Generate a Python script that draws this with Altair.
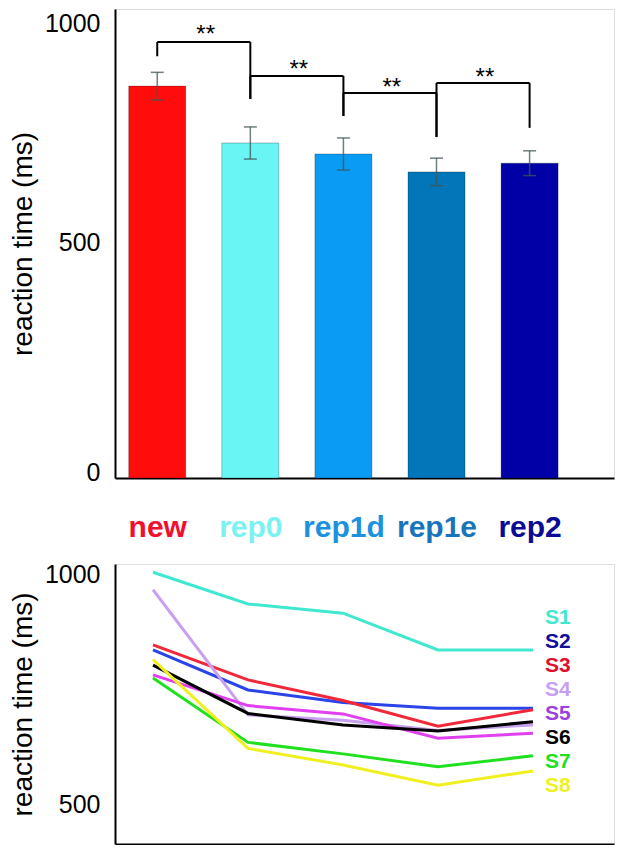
import altair as alt
import pandas as pd

# ---------------- data ----------------
conditions = ["new", "rep0", "rep1d", "rep1e", "rep2"]
mean_rt = [854, 730, 706, 667, 686]
err_rt = [30, 35, 35, 30, 27]
bar_colors = ["#ff0d0d", "#6af5f5", "#0a9cf5", "#0276b8", "#0000a6"]
label_colors = ["#f0102e", "#7af2f2", "#1a92e0", "#1a74bc", "#0a0a96"]

# significance brackets between neighbouring conditions
br_from = [1, 2, 3, 4]
br_to = [2, 3, 4, 5]
br_top = [950, 876, 839, 861]
br_left_end = [919, 826, 789, 743]
br_right_end = [826, 789, 743, 763]
star_level = [979, 903, 863, 885]
star_text = ["**", "**", "**", "**"]

subjects = ["S1", "S2", "S3", "S4", "S5", "S6", "S7", "S8"]
rt_S1 = [1004, 935, 915, 835, 835]
rt_S2 = [835, 748, 721, 708, 708]
rt_S3 = [846, 770, 725, 669, 705]
rt_S4 = [966, 694, 682, 660, 672]
rt_S5 = [781, 714, 696, 643, 654]
rt_S6 = [802, 697, 672, 659, 679]
rt_S7 = [774, 634, 609, 581, 605]
rt_S8 = [814, 621, 585, 541, 572]
line_colors = ["#40e8d0", "#2a44e8", "#f0283a", "#c8a0f0", "#e040f0", "#000000", "#20e020", "#f0f020"]
subject_label_colors = ["#40e8d0", "#10109a", "#e01030", "#c8a0f0", "#9a40e0", "#000000", "#20e020", "#f0f020"]

# ---------------- tables ----------------
pos = list(range(1, len(conditions) + 1))
bars = pd.DataFrame({"pos": pos, "cond": conditions, "rt": mean_rt, "err": err_rt})
brackets = pd.DataFrame({
    "x1": br_from, "x2": br_to, "top": br_top,
    "lb": br_left_end, "rb": br_right_end, "sy": star_level, "s": star_text,
})
series = {"S1": rt_S1, "S2": rt_S2, "S3": rt_S3, "S4": rt_S4,
          "S5": rt_S5, "S6": rt_S6, "S7": rt_S7, "S8": rt_S8}
lines = pd.DataFrame([
    {"subject": s, "pos": p, "rt": v}
    for s in subjects for p, v in zip(pos, series[s])
])
subj_df = pd.DataFrame({"subject": subjects})

FONT = "Liberation Sans"
W = 499
xscale = alt.Scale(domain=[0.6, 5.853], nice=False, zero=False)
ytop = alt.Scale(domain=[0, 1022], nice=False)
ybot = alt.Scale(domain=[413, 1022], nice=False, zero=False)

label_expr = "['', " + ", ".join(f"'{c}'" for c in conditions) + "][datum.value]"
label_color_cond = {
    "condition": [{"test": f"datum.value == {p}", "value": c} for p, c in zip(pos, label_colors)],
    "value": "black",
}

top_x_axis = alt.Axis(
    values=pos, labelExpr=label_expr, ticks=False, grid=False, title=None,
    domainColor="black", domainWidth=2, labelFontSize=30, labelFontWeight="bold",
    labelFont=FONT, labelColor=label_color_cond, labelPadding=34, labelOverlap=False,
    labelFlush=False,
)


def y_axis(values, offset):
    return alt.Axis(
        values=values, format="d", title="reaction time (ms)", titleFont=FONT, titleFontSize=28,
        titleFontWeight="normal", titleColor="black", titlePadding=7,
        labelFont=FONT, labelFontSize=25, labelColor="black", labelPadding=15,
        labelOffset=offset, ticks=False, grid=False, domainColor="black", domainWidth=2,
    )


top_label_offset = {"condition": {"test": "datum.value == 1000", "value": 4}, "value": -6}

bar_layer = alt.Chart(bars).mark_bar(size=57, stroke="#000000", strokeOpacity=0.25, strokeWidth=1).encode(
    x=alt.X("pos:Q", scale=xscale, axis=top_x_axis),
    y=alt.Y("rt:Q", scale=ytop, axis=y_axis([0, 500, 1000], top_label_offset)),
    color=alt.Color("cond:N", scale=alt.Scale(domain=conditions, range=bar_colors), legend=None),
)
err_base = alt.Chart(bars).transform_calculate(lo="datum.rt - datum.err", hi="datum.rt + datum.err")
err_rule = err_base.mark_rule(color="#3f5555", opacity=0.75, strokeWidth=1.5).encode(
    x=alt.X("pos:Q", scale=xscale), y=alt.Y("lo:Q", scale=ytop), y2="hi:Q")
cap_lo = err_base.mark_tick(color="#3f5555", opacity=0.75, thickness=1.5, size=13, orient="horizontal").encode(
    x=alt.X("pos:Q", scale=xscale), y=alt.Y("lo:Q", scale=ytop))
cap_hi = err_base.mark_tick(color="#3f5555", opacity=0.75, thickness=1.5, size=13, orient="horizontal").encode(
    x=alt.X("pos:Q", scale=xscale), y=alt.Y("hi:Q", scale=ytop))

br = alt.Chart(brackets)
br_h = br.mark_rule(color="black", strokeWidth=2).encode(
    x=alt.X("x1:Q", scale=xscale), x2="x2:Q", y=alt.Y("top:Q", scale=ytop))
br_l = br.mark_rule(color="black", strokeWidth=2).encode(
    x=alt.X("x1:Q", scale=xscale), y=alt.Y("top:Q", scale=ytop), y2="lb:Q")
br_r = br.mark_rule(color="black", strokeWidth=2).encode(
    x=alt.X("x2:Q", scale=xscale), y=alt.Y("top:Q", scale=ytop), y2="rb:Q")
stars = br.transform_calculate(xm="(datum.x1 + datum.x2) / 2 + 0.02").mark_text(
    font=FONT, fontSize=24, color="black", baseline="middle", dy=6).encode(
    x=alt.X("xm:Q", scale=xscale), y=alt.Y("sy:Q", scale=ytop), text="s:N")

top = alt.layer(bar_layer, err_rule, cap_lo, cap_hi, br_h, br_l, br_r, stars).properties(width=W, height=469)

line_layer = alt.Chart(lines).mark_line(strokeWidth=3).encode(
    x=alt.X("pos:Q", scale=xscale, axis=alt.Axis(labels=False, ticks=False, grid=False, title=None,
                                                  domainColor="black", domainWidth=2)),
    y=alt.Y("rt:Q", scale=ybot, axis=y_axis([500, 1000], 0)),
    color=alt.Color("subject:N", scale=alt.Scale(domain=subjects, range=line_colors), legend=None),
    detail="subject:N",
)
subj_labels = alt.Chart(subj_df).mark_text(font=FONT, fontSize=21, fontWeight="bold", align="left",
                                           baseline="middle").encode(
    x=alt.value(430),
    y=alt.Y("subject:N", scale=alt.Scale(type="point", domain=subjects, range=[54, 222], padding=0), axis=None),
    text="subject:N",
    color=alt.Color("subject:N", scale=alt.Scale(domain=subjects, range=subject_label_colors), legend=None),
)
bottom = alt.layer(line_layer, subj_labels).resolve_scale(y="independent", color="independent").properties(
    width=W, height=280)

chart = alt.vconcat(top, bottom, spacing=18).properties(
    padding={"left": 0, "top": 0, "right": 0, "bottom": 0}
).configure_view(stroke=None).configure(background="white")

chart.save("out.html", embed_options={"renderer": "svg", "actions": False})
